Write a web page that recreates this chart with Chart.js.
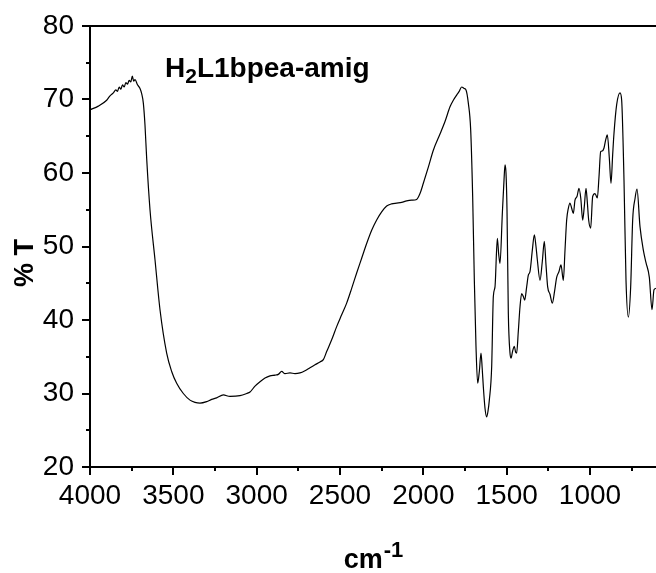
<!DOCTYPE html>
<html>
<head>
<meta charset="utf-8">
<script src="https://cdn.jsdelivr.net/npm/chart.js@4.4.0/dist/chart.umd.min.js"></script>
<style>
  html, body { margin: 0; padding: 0; background: #fff; }
  #ir { display: block; }
</style>
</head>
<body>
<canvas id="ir" width="656" height="573"></canvas>
<script>
// IR spectrum, H2L1bpea-amig
const wavenumber = [
  4000, 3950, 3900, 3880, 3860, 3845, 3835, 3825, 3815, 3805, 3795, 3785, 3775, 3765, 3755, 3746, 3738, 3730, 3715, 3700,
  3690, 3680, 3670, 3660, 3640, 3610, 3580, 3540, 3510, 3480, 3440, 3400, 3370, 3340, 3300, 3270, 3240, 3200, 3160, 3100,
  3060, 3040, 3010, 2980, 2950, 2920, 2890, 2870, 2850, 2830, 2800, 2770, 2740, 2710, 2680, 2650, 2620, 2600, 2580, 2550,
  2520, 2490, 2460, 2430, 2400, 2370, 2340, 2310, 2280, 2250, 2220, 2190, 2160, 2130, 2100, 2070, 2040, 2020, 2000, 1970,
  1940, 1900, 1870, 1840, 1820, 1800, 1785, 1770, 1755, 1744, 1730, 1716, 1704, 1694, 1684, 1674, 1664, 1654, 1647, 1640,
  1630, 1620, 1612, 1604, 1590, 1580, 1570, 1556, 1548, 1540, 1526, 1516, 1510, 1504, 1498, 1490, 1480, 1474, 1464, 1454,
  1446, 1440, 1430, 1420, 1410, 1400, 1392, 1380, 1370, 1360, 1346, 1334, 1324, 1316, 1300, 1286, 1274, 1264, 1254, 1240,
  1226, 1212, 1200, 1186, 1174, 1160, 1150, 1140, 1130, 1120, 1110, 1100, 1090, 1078, 1066, 1055, 1044, 1034, 1024, 1016,
  1008, 996, 984, 970, 956, 946, 936, 926, 916, 906, 896, 884, 874, 864, 856, 840, 820, 810, 796, 784,
  770, 756, 744, 730, 718, 700, 680, 664, 644, 628, 616, 604
];
const transmittance = [
  68.6, 69.1, 69.9, 70.5, 70.9, 71.3, 71.1, 71.7, 71.4, 72.0, 71.7, 72.3, 72.1, 72.6, 72.4, 73.2, 72.5, 72.7, 72.0, 71.5,
  70.8, 69.5, 66.5, 62.0, 55.0, 48.2, 41.4, 35.5, 33.0, 31.4, 30.0, 29.1, 28.8, 28.7, 28.9, 29.2, 29.4, 29.8, 29.6, 29.7,
  30.0, 30.2, 31.0, 31.6, 32.1, 32.4, 32.5, 32.6, 33.0, 32.7, 32.8, 32.7, 32.8, 33.1, 33.5, 33.9, 34.3, 34.6, 35.7, 37.3,
  39.1, 40.7, 42.3, 44.3, 46.4, 48.4, 50.4, 52.2, 53.6, 54.7, 55.5, 55.8, 55.9, 56.0, 56.2, 56.3, 56.4, 57.2, 58.6, 60.8,
  63.1, 65.3, 67.0, 69.0, 69.9, 70.6, 71.1, 71.7, 71.5, 71.3, 69.5, 65.9, 56.8, 45.4, 36.4, 31.4, 33.0, 35.5, 33.5, 30.9,
  28.0, 26.8, 27.6, 29.1, 33.6, 43.2, 44.5, 51.1, 49.0, 47.7, 54.5, 59.0, 61.1, 60.0, 55.0, 40.9, 35.5, 34.8, 35.8, 36.4,
  35.6, 35.5, 38.5, 41.8, 43.6, 43.2, 42.7, 44.5, 46.1, 46.6, 49.5, 51.6, 50.0, 48.2, 45.4, 48.0, 50.7, 47.5, 44.5, 43.5,
  42.3, 44.0, 45.8, 46.6, 47.5, 45.4, 49.5, 53.6, 55.2, 55.9, 55.2, 54.5, 56.3, 56.8, 57.9, 56.5, 53.6, 55.5, 57.9, 56.0,
  53.6, 52.5, 56.8, 57.2, 56.6, 59.5, 62.9, 63.0, 63.4, 64.5, 65.2, 62.0, 58.6, 62.5, 65.4, 69.3, 70.9, 69.9, 59.0, 45.4,
  40.4, 44.5, 53.6, 56.5, 57.8, 52.7, 49.5, 47.8, 45.8, 41.4, 44.1, 44.3
];

const xTicks = [4000, 3500, 3000, 2500, 2000, 1500, 1000];
const xMinorTicks = [3750, 3250, 2750, 2250, 1750, 1250, 750];
const yTicks = [20, 30, 40, 50, 60, 70, 80];
const yMinorTicks = [25, 35, 45, 55, 65, 75];

const FONT = '"Liberation Sans", Arial, sans-serif';

// 小刻度、上边框和文字
const decorPlugin = {
    id: 'decor',
    afterDraw(chart) {
        const ctx = chart.ctx;
        const area = chart.chartArea;
        const xs = chart.scales.x;
        const ys = chart.scales.y;
        ctx.save();
        ctx.strokeStyle = '#000';
        ctx.lineWidth = 2;

        // top frame line
        ctx.beginPath();
        ctx.moveTo(area.left - 1, area.top);
        ctx.lineTo(chart.width, area.top);
        ctx.stroke();

        // minor ticks
        ctx.beginPath();
        xMinorTicks.forEach(function(v) {
            const px = Math.round(xs.getPixelForValue(v));
            ctx.moveTo(px, area.bottom);
            ctx.lineTo(px, area.bottom + 4);
        });
        yMinorTicks.forEach(function(v) {
            const py = Math.round(ys.getPixelForValue(v));
            ctx.moveTo(area.left, py);
            ctx.lineTo(area.left - 4, py);
        });
        ctx.stroke();

        ctx.fillStyle = '#000';
        ctx.textBaseline = 'alphabetic';
        ctx.textAlign = 'left';

        // sample label H2L1bpea-amig
        let x = 165;
        ctx.font = 'bold 28px ' + FONT;
        ctx.fillText('H', x, 77);
        x += ctx.measureText('H').width;
        ctx.font = 'bold 21px ' + FONT;
        ctx.fillText('2', x, 83);
        x += ctx.measureText('2').width;
        ctx.font = 'bold 28px ' + FONT;
        ctx.fillText('L1bpea-amig', x, 77);

        // x axis title cm-1
        ctx.font = 'bold 27px ' + FONT;
        const cmW = ctx.measureText('cm').width;
        ctx.font = 'bold 22px ' + FONT;
        const supW = ctx.measureText('-1').width;
        let cx = (area.left + area.right) / 2 - (cmW + supW) / 2;
        ctx.font = 'bold 27px ' + FONT;
        ctx.fillText('cm', cx, 568);
        ctx.font = 'bold 22px ' + FONT;
        ctx.fillText('-1', cx + cmW + 1, 557);

        // y axis title % T
        ctx.translate(33, 287);
        ctx.rotate(-Math.PI / 2);
        ctx.font = 'bold 27px ' + FONT;
        ctx.fillText('% T', 0, 0);
        ctx.restore();
    }
};

new Chart(document.getElementById('ir'), {
    type: 'line',
    data: {
        datasets: [{
            label: '%T',
            data: wavenumber.map(function(w, i) { return { x: w, y: transmittance[i] }; }),
            borderColor: '#000',
            borderWidth: 1.2,
            pointRadius: 0,
            fill: false,
            cubicInterpolationMode: 'monotone'
        }]
    },
    options: {
        responsive: false,
        animation: false,
        events: [],
        layout: { padding: { top: 26, right: 0, left: 0, bottom: 0 } },
        plugins: {
            legend: { display: false },
            tooltip: { enabled: false }
        },
        scales: {
            x: {
                type: 'linear',
                reverse: true,
                min: 604,
                max: 4000,
                afterFit: function(scale) { scale.height = 106; },
                afterBuildTicks: function(scale) {
                    scale.ticks = xTicks.map(function(v) { return { value: v }; });
                },
                border: { color: '#000', width: 2 },
                grid: {
                    drawOnChartArea: false,
                    drawTicks: true,
                    tickLength: 8,
                    color: '#000',
                    lineWidth: 2
                },
                ticks: {
                    autoSkip: false,
                    maxRotation: 0,
                    padding: 4,
                    color: '#000',
                    font: { family: FONT, size: 28 },
                    callback: function(value) { return String(value); }
                }
            },
            y: {
                min: 20,
                max: 80,
                afterFit: function(scale) { scale.width = 90; },
                afterBuildTicks: function(scale) {
                    scale.ticks = yTicks.map(function(v) { return { value: v }; });
                },
                border: { color: '#000', width: 2 },
                grid: {
                    drawOnChartArea: false,
                    drawTicks: true,
                    tickLength: 8,
                    color: '#000',
                    lineWidth: 2
                },
                ticks: {
                    padding: 8,
                    color: '#000',
                    font: { family: FONT, size: 28 },
                    callback: function(value) { return String(value); }
                }
            }
        }
    },
    plugins: [decorPlugin]
});
</script>
</body>
</html>
